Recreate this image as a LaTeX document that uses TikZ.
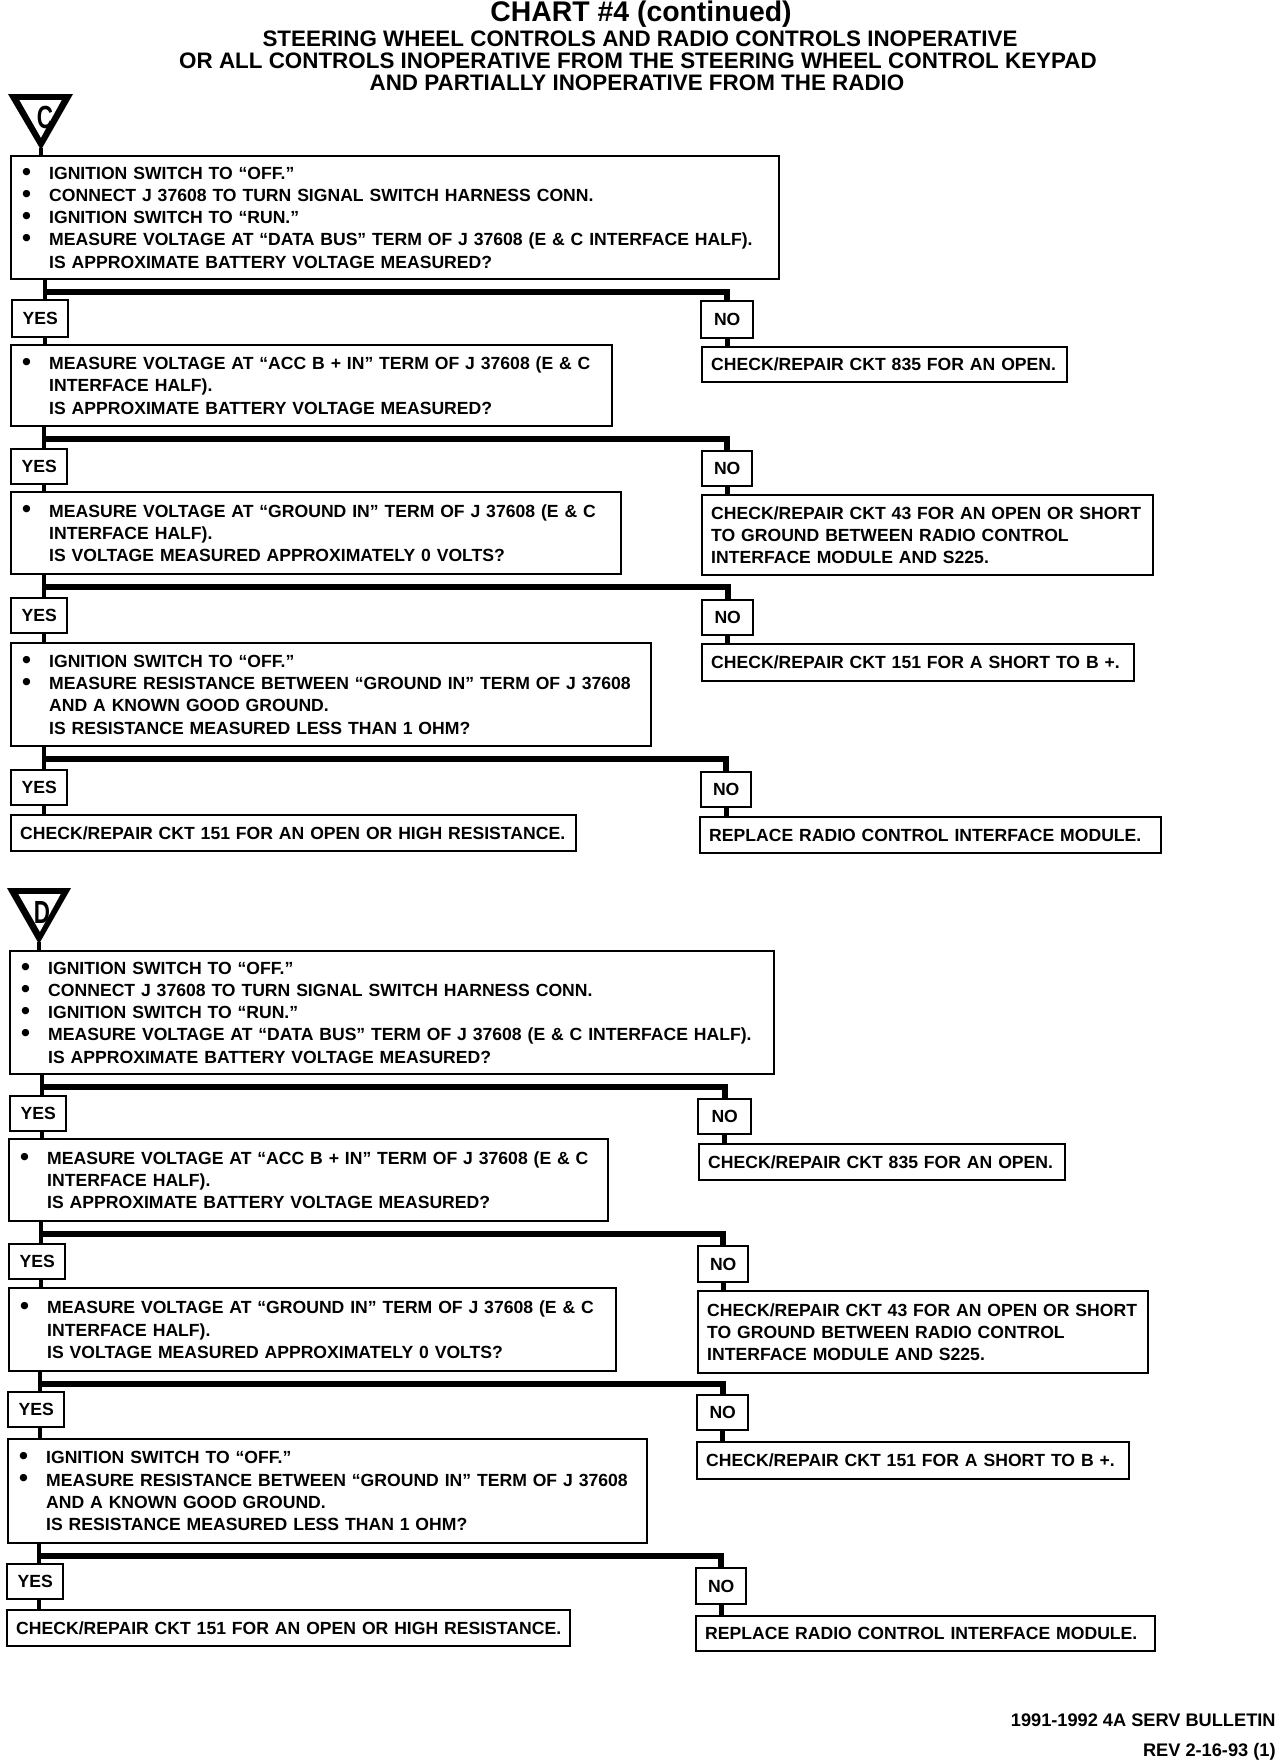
\documentclass[tikz,border=0pt]{standalone}
\usepackage{graphicx}
\usepackage{fontspec}
\setmainfont{Liberation Sans}
\usetikzlibrary{calc}
\newcommand{\bitem}[1]{\mbox{\makebox[13.5pt][l]{\raisebox{-0.35pt}{\scalebox{1.45}{\textbullet}}}#1}}
\newcommand{\bcont}[1]{\mbox{\hspace*{13.5pt}#1}}
\newcommand{\bxfont}{\fontsize{8.8}{11.1}\selectfont\bfseries}
\begin{document}
\begin{tikzpicture}[x=0.5pt,y=-0.5pt, line join=miter,
  bx/.style={draw, line width=1.2pt, anchor=north west, inner xsep=5.5pt, inner ysep=0pt, align=left, font=\bxfont},
  ck/.style={draw, line width=1.2pt, anchor=north west, inner xsep=4.5pt, inner ysep=0pt, align=left, font=\bxfont},
  yn/.style={draw, line width=1.2pt, anchor=north west, inner sep=0pt, align=center, font=\bxfont},
  vcon/.style={line width=2.3pt},
  hcon/.style={line width=3pt},
  stemline/.style={line width=1.7pt},
  ttl/.style={anchor=base, inner sep=0pt, font=\fontsize{11.2}{13}\selectfont\bfseries},
  foot/.style={anchor=base east, inner sep=0pt, font=\fontsize{9.1}{11}\selectfont\bfseries},
  letter/.style={inner sep=0pt, font=\fontsize{16}{16}\selectfont\bfseries},
]
\fill[white] (0,0) rectangle (1280,1762);
\useasboundingbox (0,0) rectangle (1280,1762);

% ---------- title ----------
\node[ttl, font=\fontsize{14.2}{16}\selectfont\bfseries] (t0) at (641,21) {CHART \#4 (continued)};
\node[ttl] (t1) at (640,46.5) {STEERING WHEEL CONTROLS AND RADIO CONTROLS INOPERATIVE};
\node[ttl] (t2) at (638,68.5) {OR ALL CONTROLS INOPERATIVE FROM THE STEERING WHEEL CONTROL KEYPAD};
\node[ttl] (t3) at (637,90) {AND PARTIALLY INOPERATIVE FROM THE RADIO};

% ---------- section C ----------
\fill (8,94) -- (73,94) -- (41,150) -- cycle;
\fill[white] (19.4,100) -- (61.7,100) -- (40.9,137.7) -- cycle;
\node[letter] (cl) at (45,117) {\scalebox{0.7}[1]{C}};
\coordinate (ctip) at (41,148);

\node[bx, text width=373pt, minimum height=61.5pt] (c1) at (10,155) {%
\bitem{IGNITION SWITCH TO ``OFF.''}\\
\bitem{CONNECT J 37608 TO TURN SIGNAL SWITCH HARNESS CONN.}\\
\bitem{IGNITION SWITCH TO ``RUN.''}\\
\bitem{MEASURE VOLTAGE AT ``DATA BUS'' TERM OF J 37608 (E \& C INTERFACE HALF).}\\
\bcont{IS APPROXIMATE BATTERY VOLTAGE MEASURED?}};
\node[yn, minimum width=28pt, minimum height=18.5pt] (cy1) at (11,299) {YES};
\node[yn, minimum width=26pt, minimum height=18.5pt] (cn1) at (700,300) {NO};
\node[bx, text width=289.5pt, minimum height=40.5pt] (c2) at (10,344) {%
\bitem{MEASURE VOLTAGE AT ``ACC B + IN'' TERM OF J 37608 (E \& C}\\
\bcont{INTERFACE HALF).}\\
\bcont{IS APPROXIMATE BATTERY VOLTAGE MEASURED?}};
\node[ck, text width=173.5pt, minimum height=17.5pt] (cx1) at (701,346) {\mbox{CHECK/REPAIR CKT 835 FOR AN OPEN.}};
\node[yn, minimum width=28pt, minimum height=17.5pt] (cy2) at (10,448) {YES};
\node[yn, minimum width=25pt, minimum height=17.5pt] (cn2) at (701,450) {NO};
\node[bx, text width=294pt, minimum height=41pt] (c3) at (10,491) {%
\bitem{MEASURE VOLTAGE AT ``GROUND IN'' TERM OF J 37608 (E \& C}\\
\bcont{INTERFACE HALF).}\\
\bcont{IS VOLTAGE MEASURED APPROXIMATELY 0 VOLTS?}};
\node[ck, text width=216.5pt, minimum height=40pt] (cx2) at (701,494) {%
\mbox{CHECK/REPAIR CKT 43 FOR AN OPEN OR SHORT}\\
\mbox{TO GROUND BETWEEN RADIO CONTROL}\\
\mbox{INTERFACE MODULE AND S225.}};
\node[yn, minimum width=28pt, minimum height=17.5pt] (cy3) at (10,597) {YES};
\node[yn, minimum width=25.5pt, minimum height=17.5pt] (cn3) at (701,599) {NO};
\node[bx, text width=309pt, minimum height=51.5pt] (c4) at (10,642) {%
\bitem{IGNITION SWITCH TO ``OFF.''}\\
\bitem{MEASURE RESISTANCE BETWEEN ``GROUND IN'' TERM OF J 37608}\\
\bcont{AND A KNOWN GOOD GROUND.}\\
\bcont{IS RESISTANCE MEASURED LESS THAN 1 OHM?}};
\node[ck, text width=207pt, minimum height=18.5pt] (cx3) at (701,643) {\mbox{CHECK/REPAIR CKT 151 FOR A SHORT TO B +.}};
\node[yn, minimum width=28pt, minimum height=17.5pt] (cy4) at (10,769) {YES};
\node[yn, minimum width=25pt, minimum height=17.5pt] (cn4) at (700,771) {NO};
\node[ck, text width=273.5pt, minimum height=18pt] (cf1) at (10,814) {\mbox{CHECK/REPAIR CKT 151 FOR AN OPEN OR HIGH RESISTANCE.}};
\node[ck, text width=221.5pt, minimum height=18pt] (cf2) at (699,816) {\mbox{REPLACE RADIO CONTROL INTERFACE MODULE.}};

\draw[stemline] (ctip) -- (ctip |- c1.north);
% branches C
\coordinate (cya) at ($(cy1.north west)+(34,0)$);
\draw[vcon] (cya |- c1.south) -- (cya);
\draw[hcon] ($(cya |- c1.south)+(0,12)$) -| (cn1.north);
\draw[vcon] (cya |- cy1.south) -- (cya |- c2.north);
\draw[vcon] (cn1.south) -- (cn1.south |- cx1.north);

\coordinate (cyb) at ($(cy2.north west)+(34,0)$);
\draw[vcon] (cyb |- c2.south) -- (cyb);
\draw[hcon] ($(cyb |- c2.south)+(0,12)$) -| (cn2.north);
\draw[vcon] (cyb |- cy2.south) -- (cyb |- c3.north);
\draw[vcon] (cn2.south) -- (cn2.south |- cx2.north);

\coordinate (cyc) at ($(cy3.north west)+(34,0)$);
\draw[vcon] (cyc |- c3.south) -- (cyc);
\draw[hcon] ($(cyc |- c3.south)+(0,12)$) -| (cn3.north);
\draw[vcon] (cyc |- cy3.south) -- (cyc |- c4.north);
\draw[vcon] (cn3.south) -- (cn3.south |- cx3.north);

\coordinate (cyd) at ($(cy4.north west)+(34,0)$);
\draw[vcon] (cyd |- c4.south) -- (cyd);
\draw[hcon] ($(cyd |- c4.south)+(0,12)$) -| (cn4.north);
\draw[vcon] (cyd |- cy4.south) -- (cyd |- cf1.north);
\draw[vcon] (cn4.south) -- (cn4.south |- cf2.north);

% ---------- section D ----------
\fill (7,888) -- (71,888) -- (39,944) -- cycle;
\fill[white] (18.4,894) -- (60.7,894) -- (39.9,931.7) -- cycle;
\node[letter] (dl) at (42,912) {\scalebox{0.7}[1]{D}};
\coordinate (dtip) at (39,942);

\node[bx, text width=371pt, minimum height=61.5pt] (d1) at (9,950) {%
\bitem{IGNITION SWITCH TO ``OFF.''}\\
\bitem{CONNECT J 37608 TO TURN SIGNAL SWITCH HARNESS CONN.}\\
\bitem{IGNITION SWITCH TO ``RUN.''}\\
\bitem{MEASURE VOLTAGE AT ``DATA BUS'' TERM OF J 37608 (E \& C INTERFACE HALF).}\\
\bcont{IS APPROXIMATE BATTERY VOLTAGE MEASURED?}};
\node[yn, minimum width=28pt, minimum height=17.5pt] (dy1) at (9,1095) {YES};
\node[yn, minimum width=26.5pt, minimum height=17.5pt] (dn1) at (697,1098) {NO};
\node[bx, text width=288.5pt, minimum height=41pt] (d2) at (8,1138) {%
\bitem{MEASURE VOLTAGE AT ``ACC B + IN'' TERM OF J 37608 (E \& C}\\
\bcont{INTERFACE HALF).}\\
\bcont{IS APPROXIMATE BATTERY VOLTAGE MEASURED?}};
\node[ck, text width=174pt, minimum height=18pt] (dx1) at (698,1143) {\mbox{CHECK/REPAIR CKT 835 FOR AN OPEN.}};
\node[yn, minimum width=28pt, minimum height=17.5pt] (dy2) at (8,1243) {YES};
\node[yn, minimum width=25pt, minimum height=18pt] (dn2) at (697,1245) {NO};
\node[bx, text width=292.5pt, minimum height=41.5pt] (d3) at (8,1287) {%
\bitem{MEASURE VOLTAGE AT ``GROUND IN'' TERM OF J 37608 (E \& C}\\
\bcont{INTERFACE HALF).}\\
\bcont{IS VOLTAGE MEASURED APPROXIMATELY 0 VOLTS?}};
\node[ck, text width=216pt, minimum height=41pt] (dx2) at (697,1290) {%
\mbox{CHECK/REPAIR CKT 43 FOR AN OPEN OR SHORT}\\
\mbox{TO GROUND BETWEEN RADIO CONTROL}\\
\mbox{INTERFACE MODULE AND S225.}};
\node[yn, minimum width=28pt, minimum height=17.5pt] (dy3) at (7,1391) {YES};
\node[yn, minimum width=25.5pt, minimum height=17.5pt] (dn3) at (696,1394) {NO};
\node[bx, text width=308.5pt, minimum height=52pt] (d4) at (7,1438) {%
\bitem{IGNITION SWITCH TO ``OFF.''}\\
\bitem{MEASURE RESISTANCE BETWEEN ``GROUND IN'' TERM OF J 37608}\\
\bcont{AND A KNOWN GOOD GROUND.}\\
\bcont{IS RESISTANCE MEASURED LESS THAN 1 OHM?}};
\node[ck, text width=207pt, minimum height=18.5pt] (dx3) at (696,1441) {\mbox{CHECK/REPAIR CKT 151 FOR A SHORT TO B +.}};
\node[yn, minimum width=28pt, minimum height=17.5pt] (dy4) at (6,1563) {YES};
\node[yn, minimum width=25pt, minimum height=18pt] (dn4) at (695,1567) {NO};
\node[ck, text width=272.5pt, minimum height=18pt] (df1) at (6,1609) {\mbox{CHECK/REPAIR CKT 151 FOR AN OPEN OR HIGH RESISTANCE.}};
\node[ck, text width=220.5pt, minimum height=17.5pt] (df2) at (695,1615) {\mbox{REPLACE RADIO CONTROL INTERFACE MODULE.}};

\draw[stemline] (dtip) -- (dtip |- d1.north);
\coordinate (dya) at ($(dy1.north west)+(33,0)$);
\draw[vcon] (dya |- d1.south) -- (dya);
\draw[hcon] ($(dya |- d1.south)+(0,12)$) -| (dn1.north);
\draw[vcon] (dya |- dy1.south) -- (dya |- d2.north);
\draw[vcon] (dn1.south) -- (dn1.south |- dx1.north);

\coordinate (dyb) at ($(dy2.north west)+(33,0)$);
\draw[vcon] (dyb |- d2.south) -- (dyb);
\draw[hcon] ($(dyb |- d2.south)+(0,12)$) -| (dn2.north);
\draw[vcon] (dyb |- dy2.south) -- (dyb |- d3.north);
\draw[vcon] (dn2.south) -- (dn2.south |- dx2.north);

\coordinate (dyc) at ($(dy3.north west)+(33,0)$);
\draw[vcon] (dyc |- d3.south) -- (dyc);
\draw[hcon] ($(dyc |- d3.south)+(0,12)$) -| (dn3.north);
\draw[vcon] (dyc |- dy3.south) -- (dyc |- d4.north);
\draw[vcon] (dn3.south) -- (dn3.south |- dx3.north);

\coordinate (dyd) at ($(dy4.north west)+(33,0)$);
\draw[vcon] (dyd |- d4.south) -- (dyd);
\draw[hcon] ($(dyd |- d4.south)+(0,12)$) -| (dn4.north);
\draw[vcon] (dyd |- dy4.south) -- (dyd |- df1.north);
\draw[vcon] (dn4.south) -- (dn4.south |- df2.north);

% ---------- footer ----------
\node[foot] (f1) at (1276,1726) {1991-1992 4A SERV BULLETIN};
\node[foot] (f2) at (1276,1756) {REV 2-16-93 (1)};
\end{tikzpicture}
\end{document}
